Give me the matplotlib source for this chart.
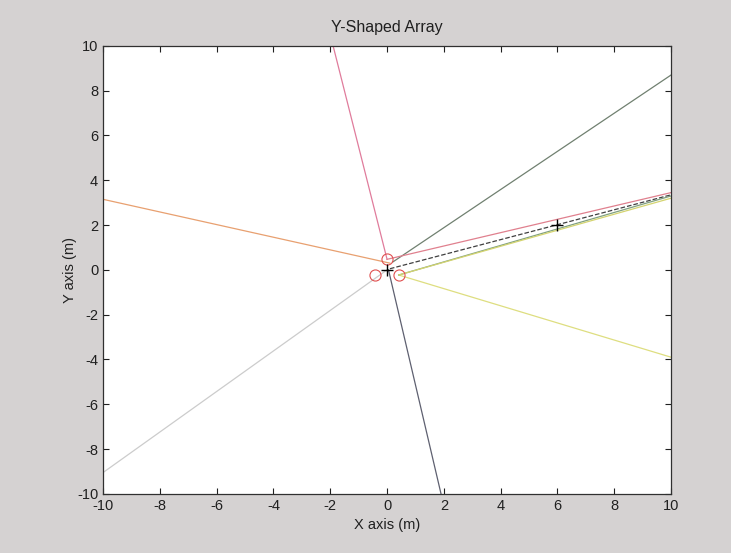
import matplotlib.pyplot as plt
import numpy as np

# sensor positions (Y-shaped array) and markers
sensor_x = [0.0, -0.41, 0.41]
sensor_y = [0.47, -0.23, -0.23]
plus_x = [0.0, 6.0]
plus_y = [0.0, 2.0]

# bearing lines: start point -> end point
line_x0 = [0.0, 0.1, 0.41, 0.0, 0.05, 0.2, 0.0, 0.1, 0.41, 0.41]
line_y0 = [0.47, 0.3, -0.23, 0.0, 0.0, 0.35, 0.47, 0.05, -0.23, -0.23]
line_x1 = [-1.9, -10.0, 10.0, -10.0, 1.9, 10.0, 10.0, 10.0, 10.0, 10.0]
line_y1 = [10.0, 3.15, -3.9, -9.05, -10.0, 8.7, 3.45, 3.35, 3.3, 3.2]
line_colors = ['#e07c9c', '#e8a070', '#dede80', '#cccccc', '#5e6070',
               '#708070', '#e0808e', '#404040', '#80a080', '#d4d470']
line_styles = ['-', '-', '-', '-', '-', '-', '-', '--', '-', '-']

plt.rcParams['font.family'] = ['Liberation Sans', 'DejaVu Sans']
plt.rcParams['axes.unicode_minus'] = False

fig = plt.figure(figsize=(7.31, 5.53), dpi=100, facecolor='#d5d2d2')
ax = fig.add_axes([0.141, 0.107, 0.777, 0.81])
ax.set_facecolor('white')

for i in range(len(line_x0)):
    ax.plot([line_x0[i], line_x1[i]], [line_y0[i], line_y1[i]],
            color=line_colors[i], linestyle=line_styles[i], linewidth=0.9)

ax.plot(sensor_x, sensor_y, 'o', markerfacecolor='none', markeredgecolor='#e05050',
        markersize=8, markeredgewidth=0.8)
ax.plot(plus_x, plus_y, '+', color='black', markersize=9, markeredgewidth=1.0)

ax.set_xlim(-10, 10)
ax.set_ylim(-10, 10)
ax.set_xticks(np.arange(-10, 11, 2))
ax.set_yticks(np.arange(-10, 11, 2))
ax.tick_params(direction='in', top=True, right=True, length=4, labelsize=10.5, colors='#202020')
for s in ax.spines.values():
    s.set_color('#303030')
    s.set_linewidth(0.9)

ax.set_title('Y-Shaped Array', fontsize=11.5, color='#202020', pad=10)
ax.set_xlabel('X axis (m)', fontsize=10.5, color='#202020')
ax.set_ylabel('Y axis (m)', fontsize=10.5, color='#202020', labelpad=0)

fig.savefig('out.png', dpi=100, facecolor=fig.get_facecolor())
